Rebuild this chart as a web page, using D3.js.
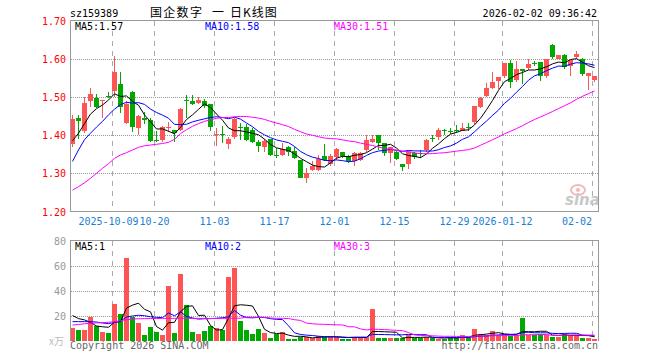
<!DOCTYPE html>
<html><head><meta charset="utf-8">
<script src="https://cdn.jsdelivr.net/npm/d3@7"></script>
<style>body{margin:0;background:#fff}svg{display:block}</style>
</head><body><svg id="c" width="660" height="360"></svg>
<script>
// ---- data ----
const dates = [
"2025-09-22","2025-09-23","2025-09-24","2025-09-25","2025-09-26","2025-09-29","2025-09-30",
"2025-10-09","2025-10-10","2025-10-13","2025-10-14","2025-10-15","2025-10-16","2025-10-17","2025-10-20","2025-10-21","2025-10-22","2025-10-23","2025-10-24","2025-10-27","2025-10-28","2025-10-29","2025-10-30","2025-10-31",
"2025-11-03","2025-11-04","2025-11-05","2025-11-06","2025-11-07","2025-11-10","2025-11-11","2025-11-12","2025-11-13","2025-11-14","2025-11-17","2025-11-18","2025-11-19","2025-11-20","2025-11-21","2025-11-24","2025-11-25","2025-11-26","2025-11-27","2025-11-28",
"2025-12-01","2025-12-02","2025-12-03","2025-12-04","2025-12-05","2025-12-08","2025-12-09","2025-12-10","2025-12-11","2025-12-12","2025-12-15","2025-12-16","2025-12-17","2025-12-18","2025-12-19","2025-12-22","2025-12-23","2025-12-24","2025-12-25","2025-12-26","2025-12-29","2025-12-30","2025-12-31",
"2026-01-05","2026-01-06","2026-01-07","2026-01-08","2026-01-09","2026-01-12","2026-01-13","2026-01-14","2026-01-15","2026-01-16","2026-01-19","2026-01-20","2026-01-21","2026-01-22","2026-01-23","2026-01-26","2026-01-27","2026-01-28","2026-01-29","2026-01-30",
"2026-02-02"];
const open = [1.378,1.444,1.412,1.490,1.498,1.489,1.503,1.515,1.535,1.431,
1.512,1.418,1.446,1.440,1.388,1.386,1.419,1.414,1.414,1.491,
1.490,1.484,1.490,1.482,1.402,1.403,1.377,1.396,1.422,1.421,
1.414,1.383,1.369,1.389,1.348,1.348,1.370,1.359,1.335,1.289,
1.309,1.309,1.346,1.325,1.342,1.355,1.346,1.331,1.335,1.360,
1.383,1.401,1.380,1.353,1.357,1.324,1.324,1.353,1.353,1.361,
1.392,1.396,1.413,1.412,1.413,1.412,1.422,1.433,1.474,1.502,
1.522,1.541,1.554,1.589,1.544,1.574,1.575,1.589,1.591,1.556,
1.635,1.600,1.609,1.580,1.605,1.600,1.554,1.544];
const high = [1.453,1.453,1.499,1.524,1.508,1.492,1.512,1.606,1.565,1.490,
1.515,1.453,1.460,1.445,1.412,1.425,1.433,1.414,1.471,1.506,
1.506,1.500,1.495,1.482,1.418,1.425,1.396,1.444,1.432,1.430,
1.418,1.387,1.391,1.391,1.365,1.380,1.372,1.370,1.336,1.313,
1.333,1.347,1.377,1.350,1.366,1.357,1.348,1.357,1.357,1.399,
1.400,1.401,1.380,1.370,1.359,1.325,1.359,1.355,1.361,1.390,
1.400,1.418,1.416,1.418,1.427,1.431,1.431,1.475,1.500,1.537,
1.565,1.553,1.588,1.596,1.594,1.574,1.600,1.594,1.591,1.600,
1.638,1.609,1.612,1.596,1.620,1.603,1.563,1.554];
const low = [1.368,1.390,1.405,1.474,1.470,1.445,1.496,1.500,1.458,1.428,
1.407,1.401,1.428,1.382,1.383,1.383,1.407,1.383,1.410,1.445,
1.480,1.481,1.471,1.410,1.372,1.379,1.363,1.390,1.388,1.385,
1.380,1.357,1.357,1.345,1.341,1.346,1.344,1.338,1.287,1.274,
1.307,1.305,1.333,1.320,1.335,1.339,1.328,1.318,1.333,1.355,
1.380,1.361,1.345,1.328,1.335,1.307,1.312,1.338,1.340,1.355,
1.383,1.386,1.400,1.402,1.405,1.410,1.410,1.428,1.472,1.500,
1.520,1.521,1.550,1.524,1.539,1.535,1.570,1.581,1.541,1.550,
1.600,1.598,1.572,1.554,1.600,1.555,1.519,1.539];
const close = [1.443,1.437,1.485,1.507,1.474,1.491,1.502,1.566,1.473,1.481,
1.420,1.451,1.439,1.384,1.386,1.421,1.421,1.405,1.468,1.489,
1.482,1.493,1.477,1.420,1.404,1.401,1.391,1.442,1.419,1.388,
1.383,1.372,1.385,1.348,1.346,1.363,1.357,1.341,1.289,1.302,
1.319,1.337,1.335,1.344,1.363,1.344,1.331,1.354,1.353,1.388,
1.391,1.379,1.354,1.368,1.338,1.317,1.356,1.342,1.352,1.386,
1.391,1.414,1.411,1.410,1.410,1.418,1.420,1.475,1.497,1.522,
1.539,1.553,1.588,1.539,1.572,1.568,1.585,1.588,1.554,1.600,
1.605,1.609,1.579,1.596,1.611,1.559,1.563,1.554];
const volume = [10.3,8.5,8.5,19,11.7,7.2,6.4,29,21,66,
19,14.3,4.5,10.9,7.2,4.5,44,6.4,53,28.4,
6.9,5.3,7.7,11.7,10.3,8.5,50.7,57.8,15.6,8.5,
5.3,9.3,6.1,2.4,5.0,6.6,1.3,1.3,2.7,2.7,
2.4,3.7,2.7,3.0,3.0,1.6,1.6,3.0,3.0,3.0,
25,2.0,2.0,2.0,2.0,2.0,4.5,2.0,2.0,3.0,
2.0,1.6,1.6,3.0,2.0,4.5,2.0,9.3,5.3,4.5,
7.7,4.5,4.5,3.4,4.5,18.3,4.5,4.2,5.6,4.2,
3.2,3.2,5.6,4.5,4.5,2.4,2.4,1.6];
// moving-average values before a full window exists
const ma5Head  = [1.385,1.405,1.430,1.455];
const ma10Head = [1.331,1.361,1.388,1.405,1.421,1.436,1.453,1.468,1.480];
const ma30Head = [1.256,1.265,1.275,1.287,1.300,1.313,1.325,1.339,1.348,1.354,1.361,1.368,1.372,1.374,1.376,1.378,1.381,1.389,1.404,1.414,1.423,1.430,1.436,1.440,1.444,1.446,1.446,1.448,1.449];
const vma5Head  = [20.0,17.5,16.5,14.5];
const vma10Head = [15.1,15.1,15.1,15.0,14.8,14.0,13.5,14.5,15.5];
const vma30Head = [12.4,12.8,13.4,13.8,14.1,14.3,14.6,15.0,15.8,16.7,17.2,17.4,17.5,17.6,17.6,17.7,17.7,17.7,17.8,17.8,17.7,17.7,17.7,17.6,17.6,17.7,17.8,17.8,17.8];
const priceTicks = [1.20,1.30,1.40,1.50,1.60,1.70];
const volTicks = [20,40,60,80];
const tickDates  = ["2025-10-09","2025-10-20","2025-11-03","2025-11-17","2025-12-01","2025-12-15","2025-12-29","2026-01-12","2026-02-02"];
const tickLabels = ["2025-10-09","10-20","11-03","11-17","12-01","12-15","12-29","2026-01-12","02-02"];
const priceMaLabels = ["MA5:1.57","MA10:1.58","MA30:1.51"];
const volMaLabels = ["MA5:1","MA10:2","MA30:3"];
const titleCode = "sz159389";
const titleName = ["国企数字","一","日K线图"];
const stamp = "2026-02-02 09:36:42";

// ---- drawing ----
const svg = d3.select("#c");
const mono = "'DejaVu Sans Mono', monospace";
const RED = "#ff5454", GREEN = "#00a800";
const maColors = ["#000000","#0000ff","#ff00ff"];
const idx = d3.range(dates.length);

const x = d3.scaleBand().domain(dates).range([70, 597]).paddingInner(1/6).paddingOuter(0);
const cx = i => x(dates[i]) + 2.5;
const yP = d3.scaleLinear().domain([1.2, 1.7]).range([211.5, 20.5]);
const yV = d3.scaleLinear().domain([0, 80]).range([340.5, 240.5]);

function ma(vals, n, head) {
  return vals.map((v, i) => i < n - 1 ? head[i] : d3.mean(vals.slice(i - n + 1, i + 1)));
}

// grid lines
const g = svg.append("g").attr("shape-rendering", "crispEdges");
priceTicks.filter(t => t > 1.2 && t < 1.7).forEach(t => {
  g.append("line").attr("x1", 70.5).attr("x2", 598.5).attr("y1", Math.round(yP(t)) + 0.5).attr("y2", Math.round(yP(t)) + 0.5)
   .attr("stroke", "#999").attr("stroke-dasharray", "1,1");
});
volTicks.filter(t => t < 80).forEach(t => {
  g.append("line").attr("x1", 70.5).attr("x2", 598.5).attr("y1", Math.round(yV(t)) + 0.5).attr("y2", Math.round(yV(t)) + 0.5)
   .attr("stroke", "#999").attr("stroke-dasharray", "1,1");
});
tickDates.forEach(d => {
  const xx = x(d) + 0.5;
  g.append("line").attr("x1", xx).attr("x2", xx).attr("y1", 21).attr("y2", 211).attr("stroke", "#aaa").attr("stroke-dasharray", "5,5");
  g.append("line").attr("x1", xx).attr("x2", xx).attr("y1", 241).attr("y2", 340).attr("stroke", "#aaa").attr("stroke-dasharray", "5,5");
});

// sina watermark
const wm = svg.append("g");
wm.append("ellipse").attr("cx", 578).attr("cy", 190).attr("rx", 7).attr("ry", 5).attr("fill", "none").attr("stroke", "#f2b8b8").attr("stroke-width", 2);
wm.append("circle").attr("cx", 578).attr("cy", 190).attr("r", 2).attr("fill", "#f2b8b8");
wm.append("text").attr("x", 565).attr("y", 205).attr("font-family", "'DejaVu Sans', sans-serif").attr("font-style", "italic").attr("font-weight", "bold")
  .attr("font-size", 15).attr("fill", "#c8c8c8").text("sina");

// candles
const cg = svg.append("g").attr("shape-rendering", "crispEdges");
idx.forEach(i => {
  const col = close[i] >= open[i] ? RED : GREEN;
  cg.append("line").attr("x1", cx(i)).attr("x2", cx(i)).attr("y1", yP(high[i])).attr("y2", yP(low[i])).attr("stroke", col);
  const top = yP(Math.max(open[i], close[i])), bot = yP(Math.min(open[i], close[i]));
  cg.append("rect").attr("x", x(dates[i])).attr("y", top).attr("width", x.bandwidth()).attr("height", Math.max(1, bot - top)).attr("fill", col);
});
// volume bars
idx.forEach(i => {
  const col = close[i] >= open[i] ? RED : GREEN;
  cg.append("rect").attr("x", x(dates[i])).attr("y", yV(volume[i])).attr("width", x.bandwidth())
    .attr("height", yV(0) - yV(volume[i])).attr("fill", col);
});

// moving averages
const pm = [ma(close, 5, ma5Head), ma(close, 10, ma10Head), ma(close, 30, ma30Head)];
const vm = [ma(volume, 5, vma5Head), ma(volume, 10, vma10Head), ma(volume, 30, vma30Head)];
const lineP = d3.line().x((d, i) => cx(i)).y(d => yP(d));
const lineV = d3.line().x((d, i) => cx(i)).y(d => yV(d));
pm.forEach((s, k) => svg.append("path").attr("d", lineP(s)).attr("fill", "none").attr("stroke", maColors[k]).attr("stroke-width", 1));
vm.forEach((s, k) => svg.append("path").attr("d", lineV(s)).attr("fill", "none").attr("stroke", maColors[k]).attr("stroke-width", 1));

// frames
const fr = svg.append("g").attr("shape-rendering", "crispEdges").attr("fill", "none").attr("stroke", "#999");
fr.append("rect").attr("x", 70.5).attr("y", 20.5).attr("width", 528).attr("height", 191);
fr.append("path").attr("d", "M70.5,340.5V240.5H598.5V340.5");

// texts
const T = (xx, yy, s, col, anchor, size, fam) => svg.append("text").attr("x", xx).attr("y", yy).attr("fill", col)
  .attr("text-anchor", anchor || "start").attr("font-size", size || 10).attr("font-family", fam || mono).text(s);

T(70, 17, titleCode, "#000");
const cjk = "'Noto Sans CJK SC', sans-serif";
T(150, 16.5, titleName[0], "#000", "start", 12, cjk).attr("letter-spacing", 1.3);
T(212, 16.5, titleName[1], "#000", "start", 12, cjk);
T(230, 16.5, titleName[2], "#000", "start", 12, cjk).attr("letter-spacing", 1);
T(597, 17, stamp, "#000", "end");

priceTicks.forEach(t => T(66, yP(t) + 4, d3.format(".2f")(t), "#ff0000", "end"));
volTicks.forEach(t => T(66, yV(t) + 4, String(t), "#999", "end"));
T(49, 345, "x万", "#bbb", "start", 10, "'Noto Sans CJK SC', sans-serif");

tickDates.forEach((d, k) => {
  const last = k === tickDates.length - 1;
  const shift = k === 0 ? -3.5 : 0.5;
  T(last ? x(d) : x(d) + shift, 225, tickLabels[k], "#1a80d6", last ? "end" : "middle");
});

const maX = [75, 205, 334];
priceMaLabels.forEach((s, k) => T(maX[k], 29.5, s, maColors[k]));
volMaLabels.forEach((s, k) => T(maX[k], 250, s, maColors[k]));

T(70, 349, "Copyright 2026 SINA.COM", "#666");
T(598, 349, "http://finance.sina.com.cn", "#666", "end");
</script>
</body></html>
